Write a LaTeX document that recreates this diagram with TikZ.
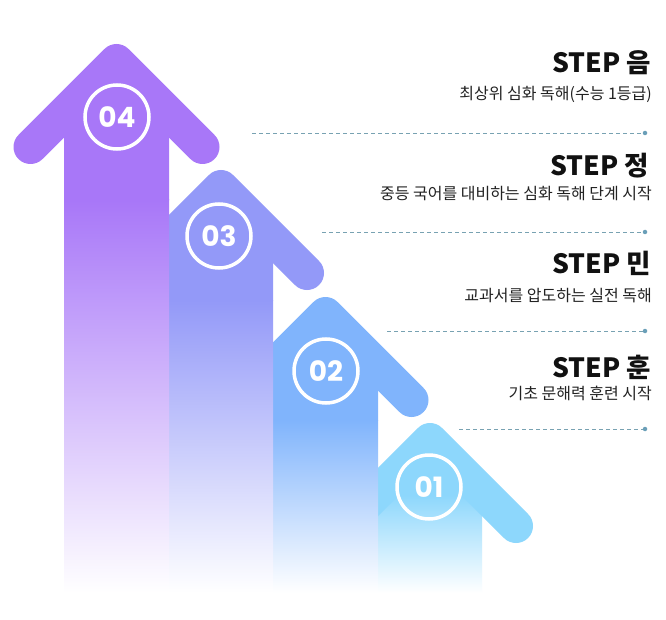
\documentclass[tikz,border=0pt]{standalone}
\usepackage{fontspec}
\setmainfont{Noto Sans CJK KR}
\newfontfamily\numfont{Poppins}
\definecolor{cA}{HTML}{A877F8}
\definecolor{cAm}{HTML}{C6A8F8}
\definecolor{cB}{HTML}{9399F8}
\definecolor{cBm}{HTML}{B8BEFA}
\definecolor{cC}{HTML}{80B4FC}
\definecolor{cCm}{HTML}{B4D2FC}
\definecolor{cD}{HTML}{8DD7FC}
\definecolor{cDm}{HTML}{C8EBFD}
\definecolor{dashc}{HTML}{78A2B2}
\definecolor{dotc}{HTML}{6A9FB8}
\definecolor{ink}{HTML}{111111}
\definecolor{sub}{HTML}{222222}
\tikzset{
  headline/.style={line width=34pt, line cap=round, line join=round},
  ring/.style={circle, draw=white, line width=3.5pt, minimum size=64pt, inner sep=0pt,
    text=white, font=\numfont\bfseries\fontsize{28}{28}\selectfont},
  steptitle/.style={anchor=base east, text=ink, inner sep=0pt, font=\bfseries\fontsize{26.5}{26.5}\selectfont},
  stepsub/.style={anchor=base east, text=sub, inner sep=0pt, font=\fontsize{16}{16}\selectfont},
  dashline/.style={draw=dashc, line width=0.9pt, dash pattern=on 4pt off 3pt},
  enddot/.style={circle, fill=dotc, minimum size=4.5pt, inner sep=0pt}
}
\begin{document}
\begin{tikzpicture}[x=1pt,y=-1pt]
\useasboundingbox[fill=white] (0,0) rectangle (666,620);

% ---- arrow 01 ----
\fill[cD] (378,492.5) -- (430,440) -- (482,492.5) -- (482,495.5) -- (378,495.5) -- cycle;
\shade[top color=cD, middle color=cDm, bottom color=white] (378,495) rectangle (482,593);
\draw[headline, draw=cD] (344,526) -- (430,440) -- (516,526);
\node[ring] (n1) at (429,487) {01};

% ---- arrow 02 ----
\fill[cC] (273,366.5) -- (325.5,314) -- (378,366.5) -- (378,420.5) -- (273,420.5) -- cycle;
\shade[top color=cC, middle color=cCm, bottom color=white] (273,420) rectangle (378,593);
\draw[headline, draw=cC] (239.5,400) -- (325.5,314) -- (411.5,400);
\node[ring] (n2) at (326,371) {02};

% ---- arrow 03 ----
\fill[cB] (169,239) -- (221,187) -- (273,239) -- (273,300.5) -- (169,300.5) -- cycle;
\shade[top color=cB, middle color=cBm, bottom color=white] (169,300) rectangle (273,593);
\draw[headline, draw=cB] (135,273) -- (221,187) -- (307,273);
\node[ring] (n3) at (219,236) {03};

% ---- arrow 04 ----
\fill[cA] (64,113.5) -- (116.5,61) -- (169,113.5) -- (169,200.5) -- (64,200.5) -- cycle;
\shade[top color=cA, middle color=cAm, bottom color=white] (64,200) rectangle (169,593);
\draw[headline, draw=cA] (30.5,147) -- (116.5,61) -- (202.5,147);
\node[ring] (n4) at (117,117) {04};

% ---- texts ----
\node[steptitle] (t4) at (651,73) {STEP 음};
\node[stepsub] (s4) at (652,100) {최상위 심화 독해(수능 1등급)};
\node[steptitle] (t3) at (649,176) {STEP 정};
\node[stepsub] (s3) at (652,200) {중등 국어를 대비하는 심화 독해 단계 시작};
\node[steptitle] (t2) at (651,273) {STEP 민};
\node[stepsub] (s2) at (652,301) {교과서를 압도하는 실전 독해};
\node[steptitle] (t1) at (651,377) {STEP 훈};
\node[stepsub] (s1) at (652,399) {기초 문해력 훈련 시작};

% ---- dashed separators ----
\node[enddot] (d4) at (645,133) {};
\coordinate (e4) at (252,133);
\draw[dashline] (e4) -- (d4.west);
\node[enddot] (d3) at (645,232) {};
\coordinate (e3) at (322,232);
\draw[dashline] (e3) -- (d3.west);
\node[enddot] (d2) at (645,331) {};
\coordinate (e2) at (387,331);
\draw[dashline] (e2) -- (d2.west);
\node[enddot] (d1) at (645,429) {};
\coordinate (e1) at (459,429);
\draw[dashline] (e1) -- (d1.west);
\end{tikzpicture}
\end{document}
